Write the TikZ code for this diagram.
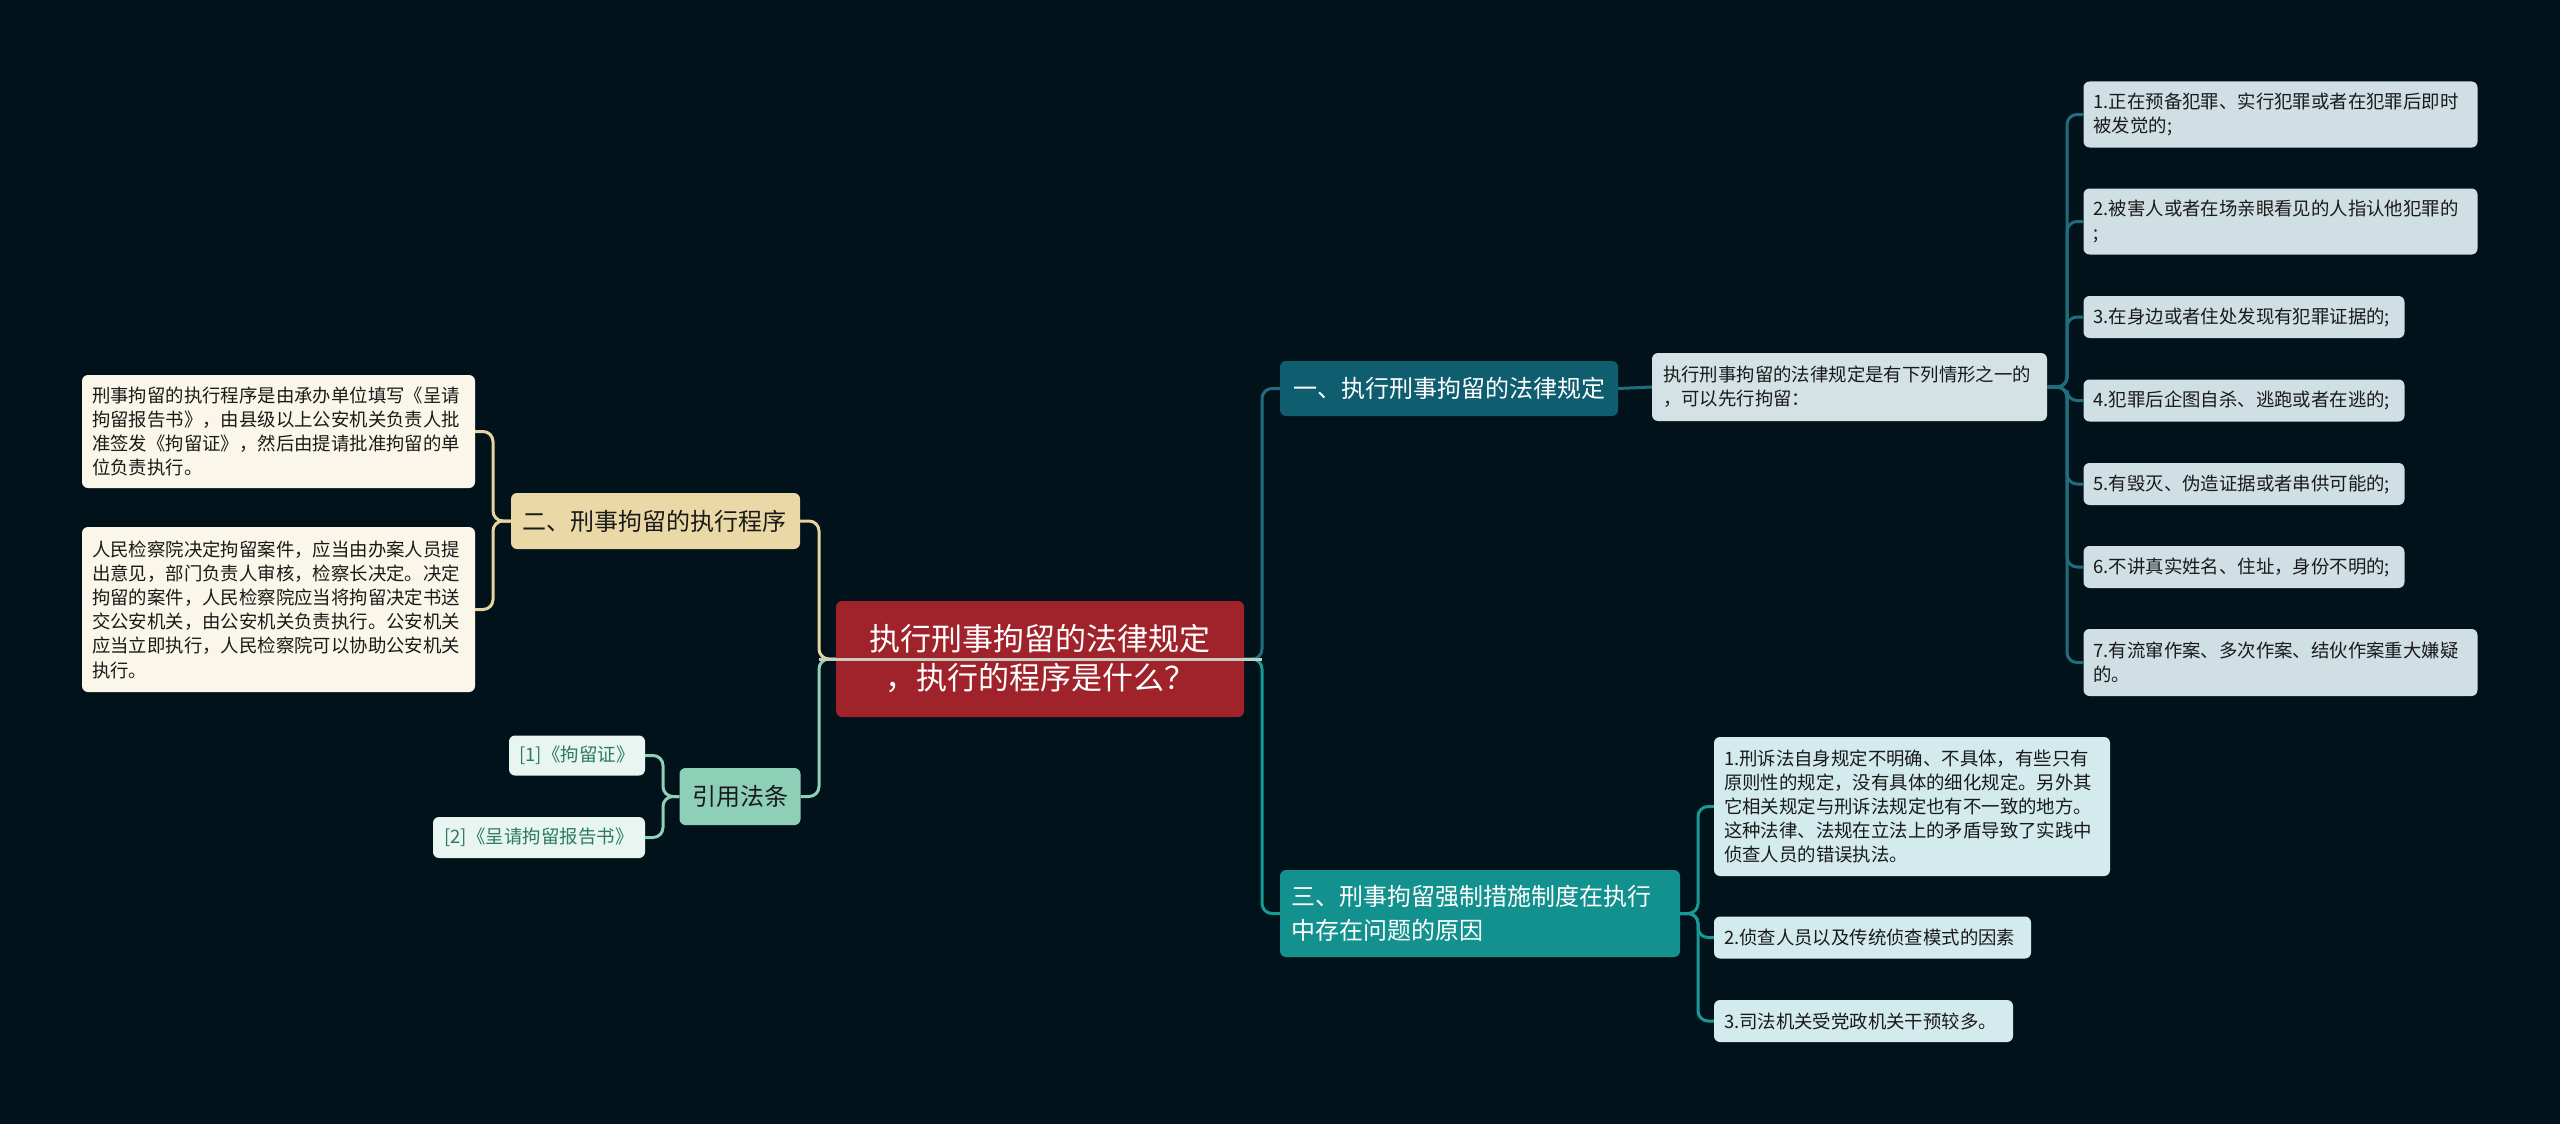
\documentclass[tikz,border=0pt]{standalone}
\usepackage{fontspec}
\setmainfont{Noto Sans CJK SC}
\definecolor{bg}{HTML}{02121A}
\definecolor{rootfill}{HTML}{A0222A}
\definecolor{beige}{HTML}{EAD9A6}
\definecolor{beigeline}{HTML}{E6D49E}
\definecolor{cream}{HTML}{FBF6EA}
\definecolor{mint}{HTML}{8ECFB7}
\definecolor{mintline}{HTML}{8FD0B8}
\definecolor{mintlight}{HTML}{E8F5F0}
\definecolor{minttext}{HTML}{2D7A63}
\definecolor{tealdark}{HTML}{0F5E70}
\definecolor{tealdarkline}{HTML}{1F6E80}
\definecolor{greyblue}{HTML}{D4E2E6}
\definecolor{itemfill}{HTML}{CFDFE4}
\definecolor{teal}{HTML}{12918F}
\definecolor{tealline}{HTML}{169A98}
\definecolor{cyanfill}{HTML}{D3EBEC}
\definecolor{rootline}{HTML}{C9CCBF}
\definecolor{darktext}{HTML}{1A1A1A}
\tikzset{
  boxbase/.style={rounded corners=6pt, inner ysep=0pt, anchor=center, align=left},
  rootbox/.style={boxbase, fill=rootfill, text=white, align=center, inner xsep=14pt,
    font=\fontsize{31}{39}\selectfont},
  lvlone/.style={boxbase, text=white, inner xsep=12pt, font=\fontsize{24}{34}\selectfont},
  lvlonedark/.style={boxbase, text=darktext, inner xsep=11pt, font=\fontsize{24}{34}\selectfont},
  leafbox/.style={boxbase, text=darktext, inner xsep=10pt, font=\fontsize{18.4}{24.2}\selectfont},
  citebox/.style={boxbase, fill=mintlight, text=minttext, align=center, inner xsep=4pt,
    font=\fontsize{18.5}{24}\selectfont},
  conn/.style={line width=3pt, rounded corners=10pt},
}
\begin{document}
\begin{tikzpicture}[x=1pt,y=-1pt]
\fill[bg] (0,0) rectangle (2560,1124);
\useasboundingbox (0,0) rectangle (2560,1124);

% ---- nodes ----
\node[rootbox, text width=380pt, minimum height=116pt] (root) at (1040,659)
  {执行刑事拘留的法律规定\\，执行的程序是什么？};

% left branch: 二
\node[lvlonedark, fill=beige, text width=267pt, minimum height=56pt] (n2) at (655.5,521)
  {二、刑事拘留的执行程序};
\node[leafbox, fill=cream, inner xsep=10pt, text width=373pt, minimum height=113pt] (b1) at (278.5,431.5)
  {刑事拘留的执行程序是由承办单位填写《呈请\\拘留报告书》，由县级以上公安机关负责人批\\准签发《拘留证》，然后由提请批准拘留的单\\位负责执行。};
\node[leafbox, fill=cream, inner xsep=10pt, text width=373pt, minimum height=165pt] (b2) at (278.5,609.5)
  {人民检察院决定拘留案件，应当由办案人员提\\出意见，部门负责人审核，检察长决定。决定\\拘留的案件，人民检察院应当将拘留决定书送\\交公安机关，由公安机关负责执行。公安机关\\应当立即执行，人民检察院可以协助公安机关\\执行。};

% left branch: 引用法条
\node[lvlonedark, fill=mint, align=center, inner xsep=6pt, text width=109pt, minimum height=57pt] (cite) at (740,796.5)
  {引用法条};
\node[citebox, text width=128pt, minimum height=40pt] (r1) at (577,755.5)
  {[1]《拘留证》};
\node[citebox, text width=204pt, minimum height=41pt] (r2) at (539,837.5)
  {[2]《呈请拘留报告书》};

% right branch: 一
\node[lvlone, fill=tealdark, inner xsep=13pt, text width=312pt, minimum height=55pt] (n1) at (1449,388.5)
  {一、执行刑事拘留的法律规定};
\node[leafbox, fill=greyblue, inner xsep=11pt, text width=373pt, minimum height=68pt] (det) at (1849.5,387)
  {执行刑事拘留的法律规定是有下列情形之一的\\，可以先行拘留：};
\node[leafbox, fill=itemfill, text width=374pt, minimum height=66pt] (i1) at (2280.5,114.5)
  {1.正在预备犯罪、实行犯罪或者在犯罪后即时\\被发觉的;};
\node[leafbox, fill=itemfill, text width=374pt, minimum height=66pt] (i2) at (2280.5,221.5)
  {2.被害人或者在场亲眼看见的人指认他犯罪的\\;};
\node[leafbox, fill=itemfill, text width=301pt, minimum height=42pt] (i3) at (2244,317)
  {3.在身边或者住处发现有犯罪证据的;};
\node[leafbox, fill=itemfill, text width=301pt, minimum height=42pt] (i4) at (2244,400.5)
  {4.犯罪后企图自杀、逃跑或者在逃的;};
\node[leafbox, fill=itemfill, text width=301pt, minimum height=42pt] (i5) at (2244,484)
  {5.有毁灭、伪造证据或者串供可能的;};
\node[leafbox, fill=itemfill, text width=301pt, minimum height=42pt] (i6) at (2244,567)
  {6.不讲真实姓名、住址，身份不明的;};
\node[leafbox, fill=itemfill, text width=374pt, minimum height=67pt] (i7) at (2280.5,662.5)
  {7.有流窜作案、多次作案、结伙作案重大嫌疑\\的。};

% right branch: 三
\node[lvlone, fill=teal, inner xsep=11pt, text width=378pt, minimum height=87pt] (n3) at (1480,913.5)
  {三、刑事拘留强制措施制度在执行\\中存在问题的原因};
\node[leafbox, fill=cyanfill, text width=376pt, minimum height=139pt] (c1) at (1912,806.5)
  {1.刑诉法自身规定不明确、不具体，有些只有\\原则性的规定，没有具体的细化规定。另外其\\它相关规定与刑诉法规定也有不一致的地方。\\这种法律、法规在立法上的矛盾导致了实践中\\侦查人员的错误执法。};
\node[leafbox, fill=cyanfill, text width=297pt, minimum height=42pt] (c2) at (1872.5,937.5)
  {2.侦查人员以及传统侦查模式的因素};
\node[leafbox, fill=cyanfill, text width=279pt, minimum height=42pt] (c3) at (1863.5,1021)
  {3.司法机关受党政机关干预较多。};

% ---- bus coordinates ----
\coordinate (bl) at (819,659);
\coordinate (br) at (1262,659);
\coordinate (bb) at (493,521);
\coordinate (bq) at (663,796.5);
\coordinate (bi) at (2067,387);
\coordinate (bc) at (1698,913.5);

% ---- connectors ----
\draw[conn, beigeline] (root.west) -- (bl) |- (n2.east);
\draw[conn, mintline] (root.west) -- (bl) |- (cite.east);
\draw[conn, beigeline] (n2.west) -- (bb) |- (b1.east);
\draw[conn, beigeline] (n2.west) -- (bb) |- (b2.east);
\draw[conn, mintline] (cite.west) -- (bq) |- (r1.east);
\draw[conn, mintline] (cite.west) -- (bq) |- (r2.east);

\draw[conn, tealdarkline] (root.east) -- (br) |- (n1.west);
\draw[conn, tealline] (root.east) -- (br) |- (n3.west);
\draw[conn, tealdarkline] (n1.east) -- (det.west);
\foreach \i in {i1,i2,i3,i4,i5,i6,i7}{
  \draw[conn, tealdarkline] (det.east) -- (bi) |- (\i.west);
}
\foreach \c in {c1,c2,c3}{
  \draw[conn, tealline] (n3.east) -- (bc) |- (\c.west);
}
% line across the root
\draw[line width=3pt, rootline] (bl) -- (br);
\end{tikzpicture}
\end{document}
